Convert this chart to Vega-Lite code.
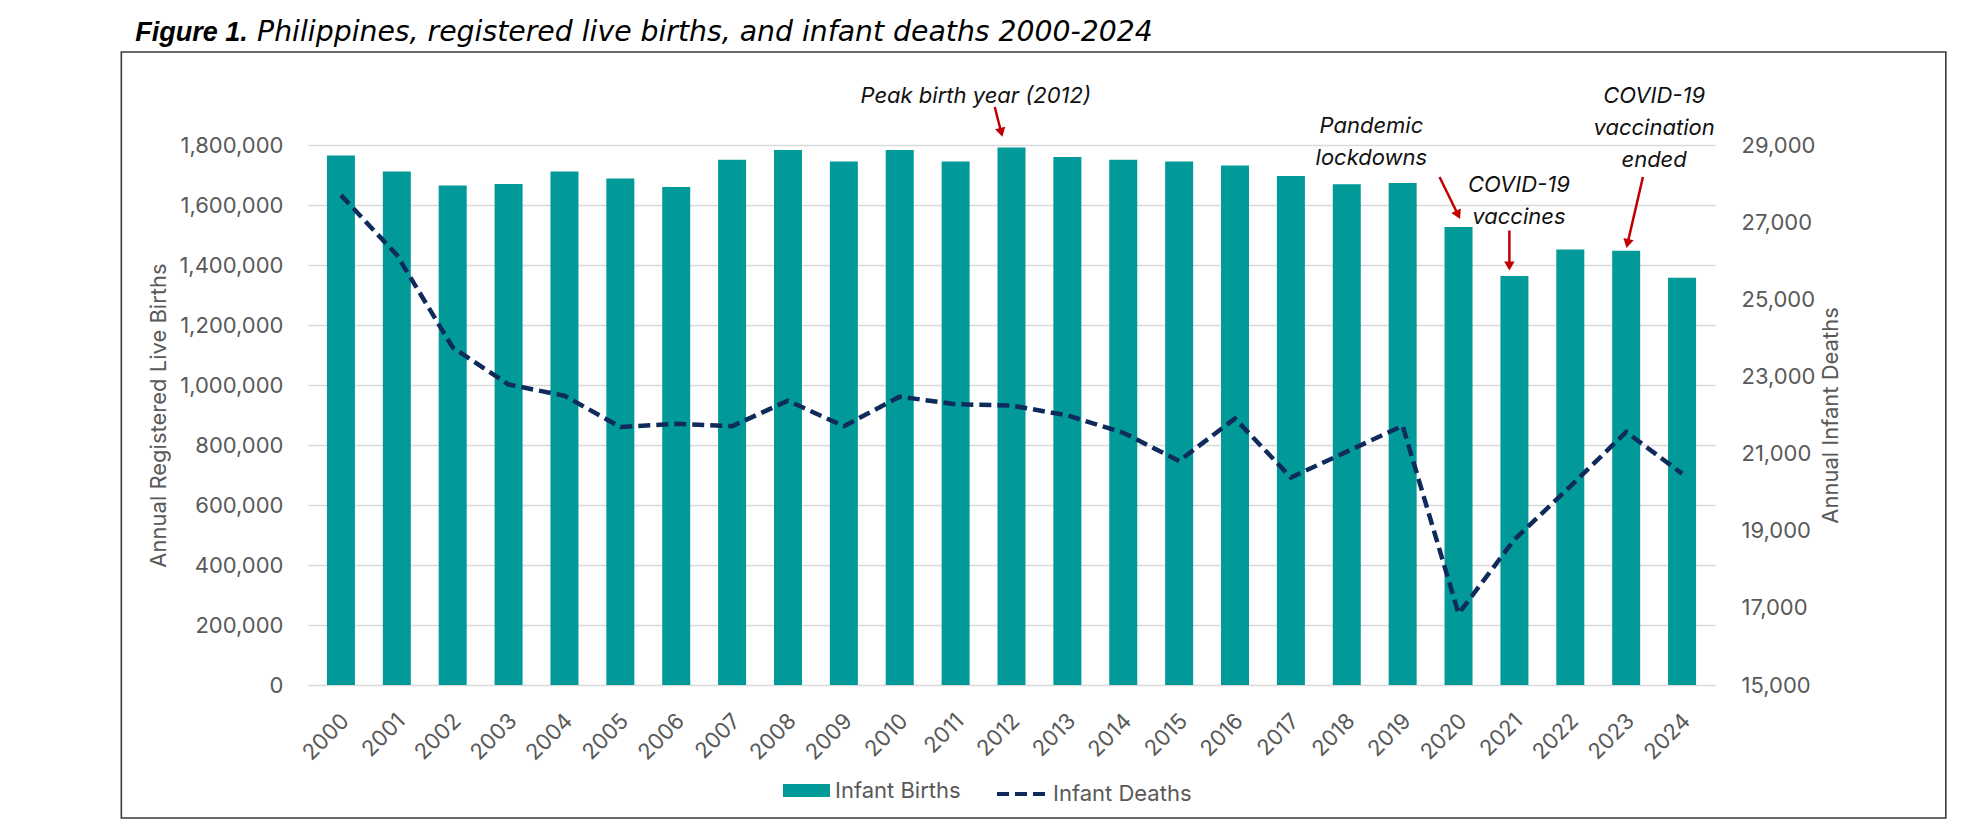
{
  "$schema": "https://vega.github.io/schema/vega-lite/v6.json",
  "autosize": {"type": "none"},
  "padding": {"left": 308, "top": 145, "right": 257, "bottom": 149},
  "width": 1407,
  "height": 540,
  "background": "white",
  "config": {"view": {"stroke": null}, "font": "Inter"},
  "datasets": {
    "main": [
      {"year": 2000, "births": 1764600, "deaths": 27700},
      {"year": 2001, "births": 1711600, "deaths": 26150},
      {"year": 2002, "births": 1664800, "deaths": 23750},
      {"year": 2003, "births": 1669700, "deaths": 22790},
      {"year": 2004, "births": 1711600, "deaths": 22500},
      {"year": 2005, "births": 1688200, "deaths": 21690},
      {"year": 2006, "births": 1659900, "deaths": 21770},
      {"year": 2007, "births": 1751100, "deaths": 21710},
      {"year": 2008, "births": 1783100, "deaths": 22370},
      {"year": 2009, "births": 1744900, "deaths": 21710},
      {"year": 2010, "births": 1783100, "deaths": 22475},
      {"year": 2011, "births": 1744900, "deaths": 22280},
      {"year": 2012, "births": 1791700, "deaths": 22245},
      {"year": 2013, "births": 1759700, "deaths": 21990},
      {"year": 2014, "births": 1751100, "deaths": 21540},
      {"year": 2015, "births": 1744900, "deaths": 20810},
      {"year": 2016, "births": 1731300, "deaths": 21910},
      {"year": 2017, "births": 1696600, "deaths": 20380},
      {"year": 2018, "births": 1669400, "deaths": 21050},
      {"year": 2019, "births": 1673500, "deaths": 21720},
      {"year": 2020, "births": 1526500, "deaths": 16850},
      {"year": 2021, "births": 1363300, "deaths": 18770},
      {"year": 2022, "births": 1451700, "deaths": 20150},
      {"year": 2023, "births": 1447600, "deaths": 21560},
      {"year": 2024, "births": 1357800, "deaths": 20480}
    ],
    "notes": [
      {"note": "Peak birth year (2012)", "year": 2011.36, "v": 1940000},
      {"note": "Pandemic\nlockdowns", "year": 2018.44, "v": 1840000},
      {"note": "COVID-19\nvaccines", "year": 2021.08, "v": 1643300},
      {"note": "COVID-19\nvaccination\nended", "year": 2023.5, "v": 1940000}
    ],
    "arrows": [
      {"target": "peak", "year": 2011.70, "v": 1926700, "year2": 2011.81, "v2": 1846700},
      {"target": "lockdown", "year": 2019.66, "v": 1693300, "year2": 2019.98, "v2": 1571700},
      {"target": "vaccines", "year": 2020.91, "v": 1515000, "year2": 2020.91, "v2": 1401700},
      {"target": "ended", "year": 2023.30, "v": 1693300, "year2": 2023.03, "v2": 1476300}
    ]
  },
  "layer": [
    {
      "layer": [
        {
          "data": {"values": [{}]},
          "mark": {"type": "rect", "fill": null, "stroke": "#3a3a3a", "strokeWidth": 1.6},
          "encoding": {
            "x": {"datum": 1996.07, "type": "quantitative"},
            "x2": {"datum": 2028.72},
            "y": {"datum": 2110000, "type": "quantitative"},
            "y2": {"datum": -443400}
          }
        },
        {
          "data": {"values": [{"label": "Figure 1.", "year": 1996.32, "v": 2146000}]},
          "mark": {"type": "text", "font": "Liberation Sans", "fontSize": 27, "fontStyle": "italic", "fontWeight": "bold", "color": "#000000", "align": "left", "baseline": "alphabetic"},
          "encoding": {
            "x": {"field": "year", "type": "quantitative"},
            "y": {"field": "v", "type": "quantitative"},
            "text": {"field": "label"}
          }
        },
        {
          "data": {"values": [{"label": "Philippines, registered live births, and infant deaths 2000-2024", "year": 1998.5, "v": 2146000}]},
          "mark": {"type": "text", "font": "DejaVu Sans", "fontSize": 28.3, "fontStyle": "italic", "color": "#000000", "align": "left", "baseline": "alphabetic"},
          "encoding": {
            "x": {"field": "year", "type": "quantitative"},
            "y": {"field": "v", "type": "quantitative"},
            "text": {"field": "label"}
          }
        },
        {
          "data": {"name": "main"},
          "mark": {"type": "bar", "width": 28},
          "encoding": {
            "x": {
              "field": "year", "type": "quantitative",
              "scale": {"domain": [1999.5, 2024.5], "nice": false, "zero": false},
              "axis": {
                "title": null,
                "values": [2000, 2001, 2002, 2003, 2004, 2005, 2006, 2007, 2008, 2009, 2010, 2011, 2012, 2013, 2014, 2015, 2016, 2017, 2018, 2019, 2020, 2021, 2022, 2023, 2024],
                "format": "d",
                "labelAngle": -45,
                "labelAlign": "right",
                "labelBaseline": "middle",
                "labelPadding": 32,
                "labelOffset": 4,
                "labelFont": "Inter",
                "labelFontSize": 22,
                "labelColor": "#595959",
                "labelOverlap": false,
                "labelFlush": false,
                "labelBound": false,
                "grid": false,
                "ticks": false,
                "domain": false
              }
            },
            "y": {
              "field": "births", "type": "quantitative",
              "scale": {"domain": [0, 1800000], "nice": false},
              "axis": {
                "title": "Annual Registered Live Births",
                "values": [0, 200000, 400000, 600000, 800000, 1000000, 1200000, 1400000, 1600000, 1800000],
                "format": ",.0f",
                "grid": true,
                "gridColor": "#d9d9d9",
                "gridWidth": 1.3,
                "domain": false,
                "ticks": false,
                "labelPadding": 25,
                "labelFont": "Inter",
                "labelFontSize": 22,
                "labelColor": "#595959",
                "titleFont": "Inter",
                "titleFontSize": 22,
                "titleFontWeight": "normal",
                "titleColor": "#595959",
                "titlePadding": 8
              }
            },
            "color": {
              "datum": "Infant Births",
              "scale": {"domain": ["Infant Births"], "range": ["#029A98"]},
              "legend": {
                "orient": "none",
                "legendX": 475,
                "legendY": 622,
                "title": null,
                "padding": 0,
                "symbolType": "M-1,-0.28L1,-0.28L1,0.28L-1,0.28Z",
                "symbolSize": 2209,
                "symbolStrokeWidth": 0,
                "labelFont": "Inter",
                "labelFontSize": 22,
                "labelColor": "#595959",
                "labelOffset": 5
              }
            }
          }
        },
        {
          "data": {"name": "notes"},
          "mark": {"type": "text", "font": "Inter", "fontSize": 22, "fontStyle": "italic", "color": "#111111", "align": "center", "baseline": "alphabetic", "lineBreak": "\n", "lineHeight": 32},
          "encoding": {
            "x": {"field": "year", "type": "quantitative"},
            "y": {"field": "v", "type": "quantitative"},
            "text": {"field": "note"}
          }
        },
        {
          "data": {"name": "arrows"},
          "mark": {"type": "rule", "color": "#C00000", "strokeWidth": 2.5},
          "encoding": {
            "x": {"field": "year", "type": "quantitative"},
            "y": {"field": "v", "type": "quantitative"},
            "x2": {"field": "year2"},
            "y2": {"field": "v2"}
          }
        },
        {
          "data": {"name": "arrows"},
          "transform": [{"filter": "datum.target == 'peak'"}],
          "mark": {"type": "point", "shape": "triangle", "filled": true, "color": "#C00000", "size": 110, "opacity": 1, "angle": 166},
          "encoding": {
            "x": {"field": "year2", "type": "quantitative"},
            "y": {"field": "v2", "type": "quantitative"}
          }
        },
        {
          "data": {"name": "arrows"},
          "transform": [{"filter": "datum.target == 'lockdown'"}],
          "mark": {"type": "point", "shape": "triangle", "filled": true, "color": "#C00000", "size": 110, "opacity": 1, "angle": 154},
          "encoding": {
            "x": {"field": "year2", "type": "quantitative"},
            "y": {"field": "v2", "type": "quantitative"}
          }
        },
        {
          "data": {"name": "arrows"},
          "transform": [{"filter": "datum.target == 'vaccines'"}],
          "mark": {"type": "point", "shape": "triangle", "filled": true, "color": "#C00000", "size": 110, "opacity": 1, "angle": 180},
          "encoding": {
            "x": {"field": "year2", "type": "quantitative"},
            "y": {"field": "v2", "type": "quantitative"}
          }
        },
        {
          "data": {"name": "arrows"},
          "transform": [{"filter": "datum.target == 'ended'"}],
          "mark": {"type": "point", "shape": "triangle", "filled": true, "color": "#C00000", "size": 110, "opacity": 1, "angle": 193},
          "encoding": {
            "x": {"field": "year2", "type": "quantitative"},
            "y": {"field": "v2", "type": "quantitative"}
          }
        }
      ]
    },
    {
      "data": {"name": "main"},
      "mark": {"type": "line", "color": "#0F2B5B", "strokeWidth": 4.5},
      "encoding": {
        "x": {"field": "year", "type": "quantitative"},
        "y": {
          "field": "deaths", "type": "quantitative",
          "scale": {"domain": [15000, 29000], "nice": false, "zero": false},
          "axis": {
            "orient": "right",
            "title": "Annual Infant Deaths",
            "titleAngle": 270,
            "titleBaseline": "top",
            "values": [15000, 17000, 19000, 21000, 23000, 25000, 27000, 29000],
            "format": ",.0f",
            "grid": false,
            "domain": false,
            "ticks": false,
            "labelPadding": 26,
            "labelFont": "Inter",
            "labelFontSize": 22,
            "labelColor": "#595959",
            "titleFont": "Inter",
            "titleFontSize": 22,
            "titleFontWeight": "normal",
            "titleColor": "#595959",
            "titlePadding": 6
          }
        },
        "strokeDash": {
          "datum": "Infant Deaths",
          "scale": {"domain": ["Infant Deaths"], "range": [[12, 6]]},
          "legend": {
            "orient": "none",
            "legendX": 687,
            "legendY": 622,
            "title": null,
            "padding": 0,
            "symbolType": "stroke",
            "symbolSize": 2500,
            "symbolStrokeColor": "#0F2B5B",
            "symbolStrokeWidth": 4,
            "labelFont": "Inter",
            "labelFontSize": 22,
            "labelColor": "#595959",
            "labelOffset": 4
          }
        }
      }
    }
  ],
  "resolve": {"scale": {"y": "independent"}}
}
